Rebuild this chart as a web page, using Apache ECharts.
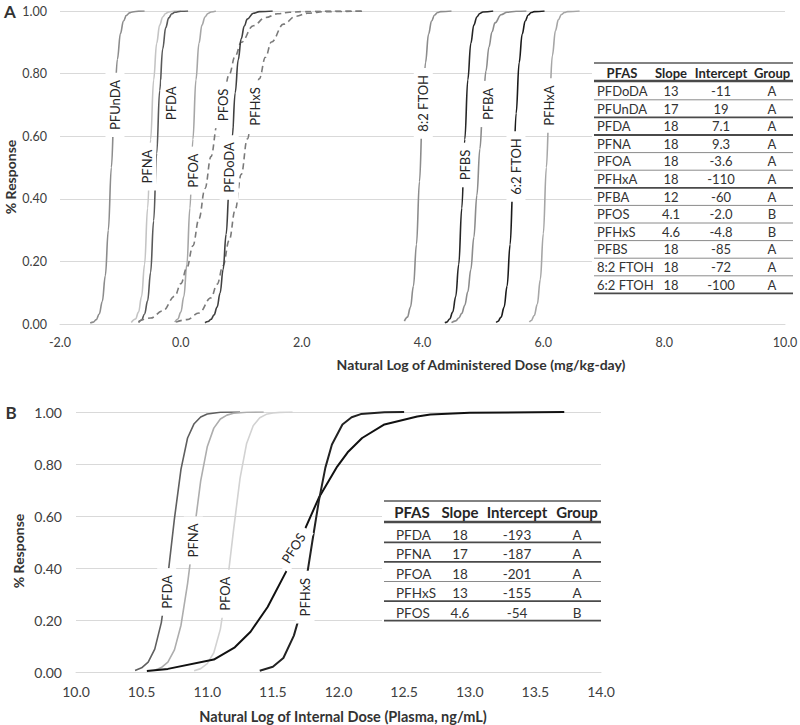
<!DOCTYPE html>
<html><head><meta charset="utf-8">
<script src="https://cdn.jsdelivr.net/npm/echarts@6/dist/echarts.min.js"></script>
<style>html,body{margin:0;padding:0;background:#fff}#c{width:800px;height:725px}</style>
</head><body><div id="c"></div>
<script>
// ---------- Panel A curves (x = ln administered dose, y = response) ----------
const pfundaA = [[-1.50,0.003],[-1.45,0.006],[-1.40,0.014],[-1.35,0.032],[-1.30,0.072],[-1.25,0.154],[-1.20,0.30],[-1.15,0.50],[-1.10,0.70],[-1.05,0.846],[-1.00,0.928],[-0.95,0.968],[-0.90,0.986],[-0.85,0.994],[-0.80,0.997],[-0.70,0.9995],[-0.60,1.0]];
const pfnaA = [[-0.82,0.005],[-0.75,0.016],[-0.70,0.038],[-0.65,0.088],[-0.60,0.19],[-0.55,0.37],[-0.50,0.59],[-0.45,0.78],[-0.40,0.897],[-0.35,0.955],[-0.30,0.981],[-0.25,0.992],[-0.20,0.997],[-0.10,0.9995],[0.00,1.0]];
const pfdaA = [[-0.70,0.005],[-0.65,0.013],[-0.60,0.032],[-0.55,0.074],[-0.50,0.165],[-0.45,0.33],[-0.40,0.545],[-0.35,0.746],[-0.30,0.879],[-0.25,0.947],[-0.20,0.978],[-0.15,0.991],[-0.10,0.996],[0.00,0.9994],[0.12,1.0]];
const pfoaA = [[-0.10,0.006],[-0.05,0.016],[0.00,0.038],[0.05,0.088],[0.10,0.19],[0.15,0.37],[0.20,0.59],[0.25,0.78],[0.30,0.897],[0.35,0.955],[0.40,0.981],[0.45,0.992],[0.50,0.997],[0.58,1.0]];
const pfosA = [[-0.70,0.008],[-0.50,0.019],[-0.30,0.042],[-0.10,0.089],[0.00,0.129],[0.10,0.18],[0.20,0.25],[0.30,0.336],[0.40,0.433],[0.50,0.535],[0.60,0.635],[0.70,0.723],[0.80,0.797],[0.90,0.856],[1.00,0.90],[1.20,0.953],[1.40,0.979],[1.60,0.991],[1.80,0.996],[2.00,0.998],[2.50,0.9998],[3.05,1.0]];
const pfhxsA = [[-0.08,0.006],[0.10,0.014],[0.30,0.035],[0.50,0.084],[0.60,0.127],[0.70,0.187],[0.80,0.267],[0.90,0.365],[1.00,0.478],[1.10,0.591],[1.20,0.696],[1.30,0.784],[1.40,0.852],[1.50,0.901],[1.70,0.958],[1.90,0.983],[2.10,0.993],[2.40,0.998],[3.05,1.0]];
const pfdodaA = [[0.40,0.004],[0.45,0.008],[0.50,0.015],[0.55,0.029],[0.60,0.054],[0.65,0.099],[0.70,0.174],[0.75,0.287],[0.80,0.435],[0.85,0.596],[0.90,0.739],[0.95,0.844],[1.00,0.912],[1.05,0.952],[1.10,0.974],[1.20,0.993],[1.30,0.998],[1.52,1.0]];
const ftoh82A = [[3.70,0.009],[3.75,0.022],[3.80,0.053],[3.85,0.121],[3.90,0.254],[3.95,0.455],[4.00,0.673],[4.05,0.835],[4.10,0.926],[4.15,0.968],[4.20,0.987],[4.25,0.995],[4.30,0.998],[4.48,1.0]];
const pfbsA = [[4.37,0.004],[4.40,0.006],[4.45,0.016],[4.50,0.038],[4.55,0.088],[4.60,0.19],[4.65,0.37],[4.70,0.59],[4.75,0.78],[4.80,0.897],[4.85,0.955],[4.90,0.981],[4.95,0.992],[5.00,0.997],[5.17,1.0]];
const pfbaA = [[4.48,0.0045],[4.55,0.010],[4.60,0.019],[4.65,0.034],[4.70,0.06],[4.75,0.103],[4.80,0.174],[4.85,0.277],[4.90,0.411],[4.95,0.56],[5.00,0.698],[5.05,0.808],[5.10,0.885],[5.15,0.933],[5.20,0.962],[5.30,0.988],[5.40,0.996],[5.55,0.9994],[5.72,1.0]];
const ftoh62A = [[5.22,0.005],[5.25,0.009],[5.30,0.022],[5.35,0.053],[5.40,0.121],[5.45,0.254],[5.50,0.455],[5.55,0.673],[5.60,0.835],[5.65,0.926],[5.70,0.968],[5.75,0.987],[5.80,0.995],[5.85,0.998],[6.02,1.0]];
const pfhxaA = [[5.77,0.006],[5.80,0.011],[5.85,0.027],[5.90,0.063],[5.95,0.142],[6.00,0.289],[6.05,0.50],[6.10,0.711],[6.15,0.858],[6.20,0.937],[6.25,0.973],[6.30,0.989],[6.35,0.995],[6.40,0.998],[6.60,1.0]];

// ---------- Panel B curves (x = ln internal dose, y = response) ----------
const pfdaB = [[10.45,0.006],[10.50,0.016],[10.55,0.038],[10.60,0.088],[10.65,0.19],[10.70,0.37],[10.75,0.59],[10.80,0.78],[10.85,0.90],[10.90,0.955],[10.95,0.981],[11.00,0.992],[11.10,0.999],[11.25,1.0]];
const pfnaB = [[10.60,0.007],[10.65,0.017],[10.70,0.038],[10.75,0.085],[10.80,0.18],[10.85,0.34],[10.90,0.54],[10.95,0.735],[11.00,0.866],[11.05,0.938],[11.10,0.973],[11.15,0.988],[11.20,0.995],[11.30,0.999],[11.43,1.0]];
const pfoaB = [[10.90,0.005],[10.95,0.013],[11.00,0.032],[11.05,0.074],[11.10,0.165],[11.15,0.33],[11.20,0.545],[11.25,0.746],[11.30,0.879],[11.35,0.947],[11.40,0.978],[11.45,0.991],[11.50,0.996],[11.55,0.9985],[11.65,1.0]];
const pfosB = [[10.54,0.004],[10.70,0.012],[11.05,0.048],[11.21,0.095],[11.33,0.155],[11.46,0.25],[11.60,0.385],[11.71,0.51],[11.85,0.67],[11.99,0.79],[12.07,0.845],[12.18,0.90],[12.35,0.952],[12.60,0.983],[12.70,0.99],[13.00,0.997],[13.72,1.0]];
const pfhxsB = [[11.40,0.005],[11.50,0.02],[11.58,0.054],[11.66,0.14],[11.70,0.21],[11.75,0.34],[11.80,0.50],[11.85,0.657],[11.90,0.786],[11.95,0.875],[12.03,0.952],[12.10,0.98],[12.17,0.992],[12.35,0.999],[12.50,1.0]];

// ---------- curve labels: [text, x, y] in data units ----------
const labelsA = [['PFUnDA',-1.09,0.70],['PFNA',-0.565,0.503],['PFDA',-0.168,0.705],['PFOA',0.196,0.49],['PFOS',0.693,0.70],['PFDoDA',0.80,0.50],['PFHxS',1.227,0.695],['8:2 FTOH',4.013,0.705],['PFBS',4.703,0.508],['PFBA',5.089,0.703],['6:2 FTOH',5.547,0.503],['PFHxA',6.098,0.698]];
const labelsB = [['PFDA',10.691,0.308],['PFNA',10.894,0.506],['PFOA',11.135,0.301],['PFOS',11.656,0.477],['PFHxS',11.745,0.288]];

// ---------- tables ----------
const tableHeader = ['PFAS','Slope','Intercept','Group'];
const tableARows = [['PFDoDA','13','-11','A'],['PFUnDA','17','19','A'],['PFDA','18','7.1','A'],['PFNA','18','9.3','A'],['PFOA','18','-3.6','A'],['PFHxA','18','-110','A'],['PFBA','12','-60','A'],['PFOS','4.1','-2.0','B'],['PFHxS','4.6','-4.8','B'],['PFBS','18','-85','A'],['8:2 FTOH','18','-72','A'],['6:2 FTOH','18','-100','A']];
const tableBRows = [['PFDA','18','-193','A'],['PFNA','17','-187','A'],['PFOA','18','-201','A'],['PFHxS','13','-155','A'],['PFOS','4.6','-54','B']];

// ---------- axis text ----------
const xTitleA = 'Natural Log of Administered Dose (mg/kg-day)';
const xTitleB = 'Natural Log of Internal Dose (Plasma, ng/mL)';
const yTitle = '% Response';

const FONT = 'Lato, "Open Sans", sans-serif';

const stylesA = {
  pfundaA:['#8c8c8c','solid'], pfnaA:['#c4c4c4','solid'], pfdaA:['#595959','solid'], pfoaA:['#a6a6a6','solid'],
  pfosA:['#7a7a7a','dash'], pfhxsA:['#7a7a7a','dash'], pfdodaA:['#404040','solid'], ftoh82A:['#8c8c8c','solid'],
  pfbsA:['#262626','solid'], pfbaA:['#8c8c8c','solid'], ftoh62A:['#1a1a1a','solid'], pfhxaA:['#a6a6a6','solid']
};
const dataA = {pfundaA,pfnaA,pfdaA,pfoaA,pfosA,pfhxsA,pfdodaA,ftoh82A,pfbsA,pfbaA,ftoh62A,pfhxaA};
const stylesB = {pfdaB:['#5f5f5f',1.6], pfnaB:['#adadad',1.6], pfoaB:['#d2d2d2',1.6], pfosB:['#111111',2], pfhxsB:['#222222',2]};
const dataB = {pfdaB,pfnaB,pfoaB,pfosB,pfhxsB};

const series = [];
Object.keys(dataA).forEach(k => {
  const s = stylesA[k];
  series.push({type:'line', name:k, xAxisIndex:0, yAxisIndex:0, data:dataA[k], symbol:'none', showSymbol:false,
    smooth:0.4, smoothMonotone:'x', silent:true, z:3,
    lineStyle:{color:s[0], width:1.6, type: s[1]==='dash' ? [6,4] : 'solid'}});
});
Object.keys(dataB).forEach(k => {
  const s = stylesB[k];
  series.push({type:'line', name:k, xAxisIndex:1, yAxisIndex:1, data:dataB[k], symbol:'none', showSymbol:false,
    smooth:false, silent:true, z:3, lineStyle:{color:s[0], width:s[1]}});
});

// ---------- table graphics ----------
function buildTable(rows, L){
  const els = [];
  els.push({type:'rect', z:50, silent:true, shape:{x:L.bg[0], y:L.bg[1], width:L.bg[2], height:L.bg[3]}, style:{fill:'#fff'}});
  const hline = (y,w,c) => els.push({type:'line', z:51, silent:true, shape:{x1:L.left, y1:y, x2:L.right, y2:y}, style:{stroke:c, lineWidth:w}});
  hline(L.topY, 1.5, '#595959');
  tableHeader.forEach((h,i) => els.push({type:'text', z:52, silent:true, x:L.headX[i], y:L.headY,
    style:{text:h, fontSize:L.headFs, fontWeight:'bold', fontFamily:FONT, fill:'#262626', align:'center', verticalAlign:'middle'}}));
  hline(L.headLineY, 2.5, '#4a4a4a');
  rows.forEach((r,ri) => {
    const y = L.rowY0 + ri*L.rowStep;
    r.forEach((c,ci) => els.push({type:'text', z:52, silent:true, x: ci===0 ? L.firstX : L.colX[ci], y:y,
      style:{text:c, fontSize:L.rowFs, fontFamily:FONT, fill:'#333333', align: ci===0 ? 'left' : 'center', verticalAlign:'middle'}}));
    const thick = L.thick[ri];
    hline(y + L.sepOff, thick ? 1.8 : 1, thick ? '#4a4a4a' : '#8a8a8a');
  });
  return els;
}
const tableA = buildTable(tableARows, {bg:[592,58,203,242], left:594, right:793, topY:63, headY:72.5, headLineY:81,
  headX:[622,671,721,772], firstX:597, colX:[0,671,721,772], rowY0:91, rowStep:17.6, sepOff:8.8,
  headFs:13, rowFs:13, thick:[0,1,1,0,0,1,0,0,0,0,0,1]});
const tableB = buildTable(tableBRows, {bg:[382,497,221,128], left:384, right:601, topY:501, headY:511.5, headLineY:522,
  headX:[412,460,517,577], firstX:396, colX:[0,460,517,577], rowY0:534.5, rowStep:19.6, sepOff:7.8,
  headFs:15, rowFs:13.5, thick:[1,1,0,1,1]});

const txt = (s, x, y, fs, rot, bold) => ({type:'text', z:60, silent:true, x:x, y:y, rotation:rot||0,
  style:{text:s, fontSize:fs, fontWeight: bold ? 'bold' : 'normal', fontFamily:FONT, fill:'#333333', align:'center', verticalAlign:'middle'}});

const gridLineColor = '#d9d9d9';
const chart = echarts.init(document.getElementById('c'), null, {renderer:'svg'});
chart.setOption({
  animation:false,
  backgroundColor:'#fff',
  textStyle:{fontFamily:FONT},
  grid:[{left:60, top:11, width:725, height:313, outerBoundsMode:'none', containLabel:false},
        {left:76, top:412, width:525, height:260, outerBoundsMode:'none', containLabel:false}],
  xAxis:[
    {gridIndex:0, type:'value', min:-2, max:10, interval:2,
      axisLine:{show:true, onZero:false, lineStyle:{color:gridLineColor, width:1}}, axisTick:{show:false}, splitLine:{show:false},
      axisLabel:{formatter:v => v.toFixed(1), fontSize:12.5, color:'#404040', margin:12, fontFamily:FONT, showMinLabel:true, showMaxLabel:true}},
    {gridIndex:1, type:'value', min:10, max:14, interval:0.5,
      axisLine:{show:true, onZero:false, lineStyle:{color:gridLineColor, width:1}}, axisTick:{show:false}, splitLine:{show:false},
      axisLabel:{formatter:v => v.toFixed(1), fontSize:14, color:'#404040', margin:12, fontFamily:FONT, showMinLabel:true, showMaxLabel:true}}
  ],
  yAxis:[
    {gridIndex:0, type:'value', min:0, max:1, interval:0.2,
      axisLine:{show:false}, axisTick:{show:false}, splitLine:{show:true, lineStyle:{color:gridLineColor, width:1}},
      axisLabel:{formatter:v => v.toFixed(2), fontSize:12.5, color:'#404040', margin:13, fontFamily:FONT}},
    {gridIndex:1, type:'value', min:0, max:1, interval:0.2,
      axisLine:{show:false}, axisTick:{show:false}, splitLine:{show:true, lineStyle:{color:gridLineColor, width:1}},
      axisLabel:{formatter:v => v.toFixed(2), fontSize:14, color:'#404040', margin:14, fontFamily:FONT}}
  ],
  series:series
});

// curve labels placed through the chart's own scales
function curveLabels(list, gi, fs){
  return list.map(l => {
    const p = chart.convertToPixel({gridIndex:gi}, [l[1], l[2]]);
    const rot = (gi === 1 && l[0] === 'PFOS') ? 58 : 90;
    return {type:'text', z:80, silent:true, x:p[0], y:p[1], rotation: rot*Math.PI/180,
      style:{text:l[0], fontSize:fs, fontFamily:FONT, fill:'#262626', backgroundColor:'#fff', padding:[3,7],
        align:'center', verticalAlign:'middle'}};
  });
}

const graphics = [].concat(tableA, tableB, curveLabels(labelsA, 0, 13), curveLabels(labelsB, 1, 13), [
  txt('A', 10, 11, 17, 0, true),
  txt('B', 11, 412, 17, 0, true),
  txt(xTitleA, 481, 364, 14, 0, true),
  txt(xTitleB, 343, 716, 14.5, 0, true),
  txt(yTitle, 10, 177, 14, Math.PI/2, true),
  txt(yTitle, 18, 551, 14, Math.PI/2, true)
]);
chart.setOption({graphic:graphics});
</script></body></html>
